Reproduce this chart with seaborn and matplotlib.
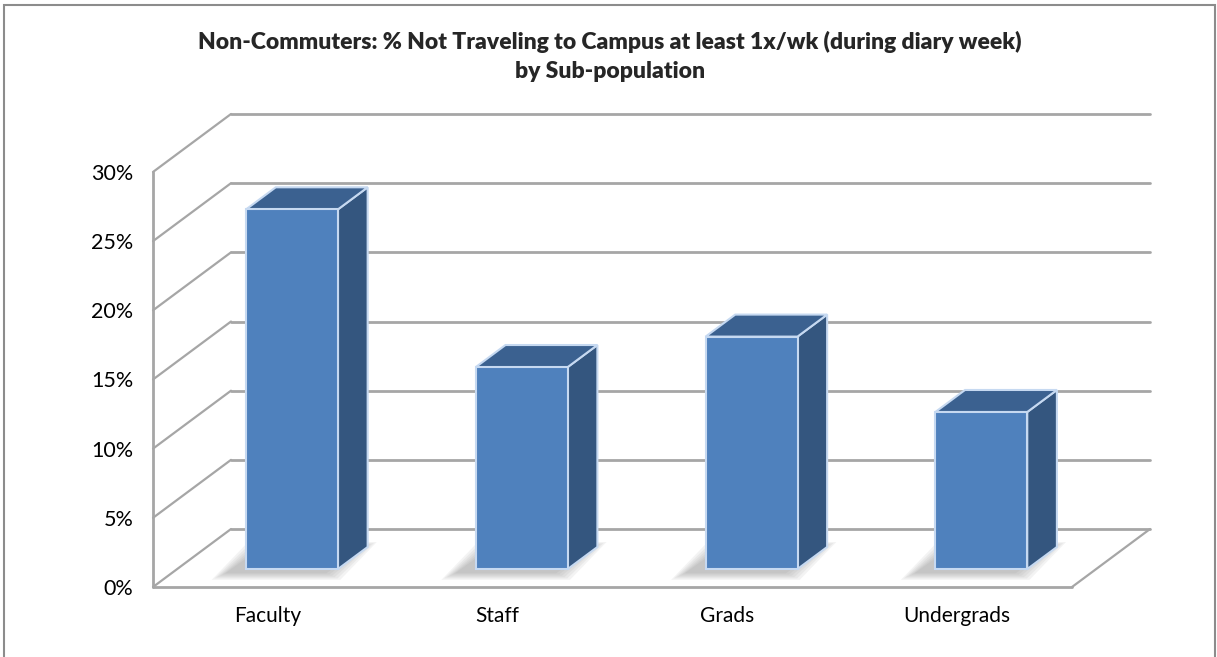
import matplotlib
matplotlib.use("Agg")
import matplotlib.pyplot as plt
from matplotlib.patches import Polygon, Rectangle
import seaborn as sns
import pandas as pd

# data
categories = ["Faculty", "Staff", "Grads", "Undergrads"]
pct_not_traveling = [26.0, 14.6, 16.8, 11.35]
y_ticks = [0, 5, 10, 15, 20, 25, 30]
y_tick_labels = ["0%", "5%", "10%", "15%", "20%", "25%", "30%"]
title_lines = ["Non-Commuters: % Not Traveling to Campus at least 1x/wk (during diary week)",
               "by Sub-population"]

W, H = 1217, 657
FRONT_BLUE = "#4F81BD"
SIDE_BLUE = "#34567F"
TOP_BLUE = "#3B6190"
EDGE = "#C6D9F1"
GRID = "#A6A6A6"

# 3d look: wall depth in data units, bar sits in the middle of the depth
wall_dx = 0.3395
wall_dy = 4.19
bar_front = 0.31
bar_depth = 0.38
bar_width = 0.4

sns.set_theme(style="white")
plt.rcParams["font.family"] = ["Lato", "DejaVu Sans"]

fig = plt.figure(figsize=(W / 100, H / 100), dpi=100)
ax = fig.add_axes([153 / W, 1 - 587 / H, 997 / W, 473 / H])

df = pd.DataFrame({"group": categories, "pct": pct_not_traveling})
sns.barplot(data=df, x="group", y="pct", width=bar_width, color=FRONT_BLUE,
            saturation=1, edgecolor=EDGE, linewidth=1.5, ax=ax, zorder=5)

x_lo, x_hi = -0.5, len(categories) - 0.5
ymax = y_ticks[-1]

# walls and gridlines
for v in y_ticks:
    ax.plot([x_lo + wall_dx, x_hi + wall_dx], [v + wall_dy, v + wall_dy],
            color=GRID, lw=2, clip_on=False, zorder=1)
    ax.plot([x_lo, x_lo + wall_dx], [v, v + wall_dy],
            color=GRID, lw=1.6, clip_on=False, zorder=1)
ax.plot([x_lo, x_lo], [0, ymax], color=GRID, lw=2, clip_on=False, zorder=1)
ax.plot([x_lo, x_hi], [0, 0], color=GRID, lw=2, clip_on=False, zorder=1)
ax.plot([x_hi, x_hi + wall_dx], [0, wall_dy], color=GRID, lw=1.6, clip_on=False, zorder=1)

# shift the front faces into depth and add top/side faces + shadow
fdx, fdy = bar_front * wall_dx, bar_front * wall_dy
ddx, ddy = bar_depth * wall_dx, bar_depth * wall_dy
for bar, val in zip(ax.patches, pct_not_traveling):
    x0 = bar.get_x() + fdx
    bar.set_x(x0)
    bar.set_y(fdy)
    bar.set_height(val)
    x1 = x0 + bar_width
    y0, y1 = fdy, fdy + val
    # soft shadow on the floor
    for k in range(6):
        g = 0.012 * k
        sh = Polygon([(x0 - 0.09 - g, y0 - 0.3 - g * 8), (x1 - 0.05 + g, y0 - 0.3 - g * 8),
                      (x1 + ddx - 0.02 + g, y0 + ddy + g * 6), (x0 + ddx - 0.06 - g, y0 + ddy + g * 6)],
                     closed=True, facecolor="#6F6F6F", edgecolor="none", alpha=0.08, zorder=3)
        ax.add_patch(sh)
    side = Polygon([(x1, y0), (x1 + ddx, y0 + ddy), (x1 + ddx, y1 + ddy), (x1, y1)],
                   closed=True, facecolor=SIDE_BLUE, edgecolor=EDGE, lw=1.5, zorder=4)
    top = Polygon([(x0, y1), (x1, y1), (x1 + ddx, y1 + ddy), (x0 + ddx, y1 + ddy)],
                  closed=True, facecolor=TOP_BLUE, edgecolor=EDGE, lw=1.5, zorder=4)
    ax.add_patch(side)
    ax.add_patch(top)

ax.set_xlim(x_lo, x_hi + wall_dx)
ax.set_ylim(0, ymax + wall_dy)
ax.set_yticks(y_ticks)
ax.set_yticklabels(y_tick_labels)
ax.set_xticks(range(len(categories)))
ax.set_xticklabels(categories)
ax.set_xlabel("")
ax.set_ylabel("")
ax.tick_params(axis="both", length=0, colors="#000000")
ax.tick_params(axis="y", pad=14, labelsize=15.5)
ax.tick_params(axis="x", pad=14, labelsize=15)
for s in ax.spines.values():
    s.set_visible(False)
ax.patch.set_alpha(0)

fig.text(610 / W, 1 - 42 / H, title_lines[0], ha="center", va="center",
         fontsize=16.5, fontweight="heavy")
fig.text(610 / W, 1 - 72 / H, title_lines[1], ha="center", va="center",
         fontsize=16.5, fontweight="heavy")

fig.add_artist(Rectangle((4 / W, -0.02), 1211 / W, 1 - 5 / H + 0.02, transform=fig.transFigure,
                         facecolor="none", edgecolor="#8C8C8C", lw=1.5))

fig.savefig("out.png", dpi=100)
